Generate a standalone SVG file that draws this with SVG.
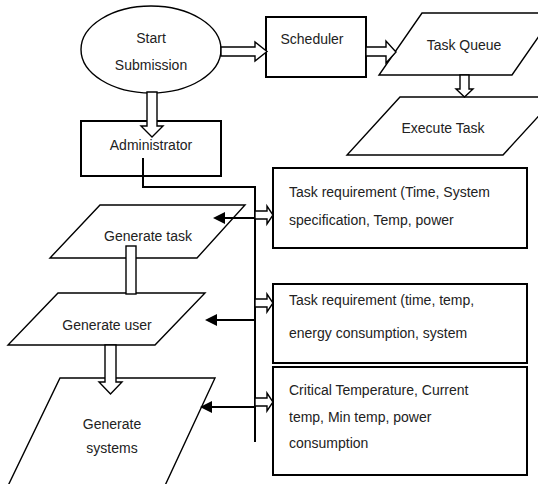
<svg xmlns="http://www.w3.org/2000/svg" width="538" height="484" viewBox="0 0 538 484">
<style>
text{font-family:"Liberation Sans",Arial,sans-serif;font-size:14px;fill:#222}
.c{text-anchor:middle}
.shape{fill:#fff;stroke:#000;stroke-width:1.4}
.box{fill:#fff;stroke:#000;stroke-width:2}
.block{fill:#fff;stroke:#000;stroke-width:1.4}
.ln{fill:none;stroke:#000;stroke-width:2}
.head{fill:#000}
</style>
<rect width="538" height="484" fill="#fff"/>
<g id="start"><ellipse class="shape" cx="151" cy="49.5" rx="70" ry="43.5"/><text class="c" x="151" y="43">Start</text><text class="c" x="151" y="70">Submission</text></g>
<g id="scheduler"><rect class="box" x="266" y="17" width="100" height="60"/><text class="c" x="312" y="44">Scheduler</text></g>
<g id="taskqueue"><polygon class="shape" points="422,13 555,13 512,75 379,75"/><text class="c" x="464" y="50">Task Queue</text></g>
<g id="execute"><polygon class="shape" points="400,97 556,97 503,155 347,155"/><text class="c" x="443" y="133">Execute Task</text></g>
<g id="administrator"><rect class="box" x="81" y="121" width="140" height="55"/><text class="c" x="151" y="150">Administrator</text></g>
<g id="gentask"><polygon class="shape" points="100,205 245,205 197,258 50,258"/><text class="c" x="148" y="241">Generate task</text></g>
<g id="genuser"><polygon class="shape" points="58,293 205,293 155,345 8,345"/><text class="c" x="107" y="330">Generate user</text></g>
<g id="gensystems"><polygon class="shape" points="60,378 215,378 162,492 5,492"/><text class="c" x="112" y="429">Generate</text><text class="c" x="112" y="453">systems</text></g>
<g id="req1"><rect class="box" x="273" y="168" width="254" height="80"/><text x="289" y="197">Task requirement (Time, System</text><text x="289" y="225">specification, Temp, power</text></g>
<g id="req2"><rect class="box" x="273" y="284" width="254" height="79"/><text x="289" y="305">Task requirement (time, temp,</text><text x="289" y="338">energy consumption, system</text></g>
<g id="req3"><rect class="box" x="273" y="367" width="254" height="108"/><text x="289" y="395">Critical Temperature, Current</text><text x="289" y="422">temp, Min temp, power</text><text x="289" y="448">consumption</text></g>
<g id="connectors">
<polygon class="block" points="221,47 255,47 255,42 267,51.5 255,61 255,56 221,56"/>
<polygon class="block" points="366,47 386,47 386,41 396,52 386,63 386,56 366,56"/>
<polygon class="block" points="147,92 157,92 157,126 163,126 152,137 141,126 147,126"/>
<polygon class="block" points="460,75 469,75 469,89 473,89 464.5,97 456,89 460,89"/>
<rect class="block" x="126" y="246" width="10" height="48"/>
<polygon class="block" points="105,345 116,345 116,382 122,382 110.5,394 99,382 105,382"/>
<polyline class="ln" points="143,158 143,187 255,187 255,442"/>
<polygon class="block" points="255,211 267,211 267,206 273,215 267,224 267,219 255,219"/>
<polygon class="block" points="255,299 267,299 267,294 273,303 267,312 267,307 255,307"/>
<polygon class="block" points="255,398 267,398 267,393 273,402 267,411 267,406 255,406"/>
<line class="ln" x1="255" y1="218" x2="222" y2="218"/><polygon class="head" points="213,218 225,212 225,224"/>
<line class="ln" x1="255" y1="320" x2="214" y2="320"/><polygon class="head" points="205,320 217,314 217,326"/>
<line class="ln" x1="255" y1="407" x2="209" y2="407"/><polygon class="head" points="200,407 212,401 212,413"/>
</g>
</svg>
